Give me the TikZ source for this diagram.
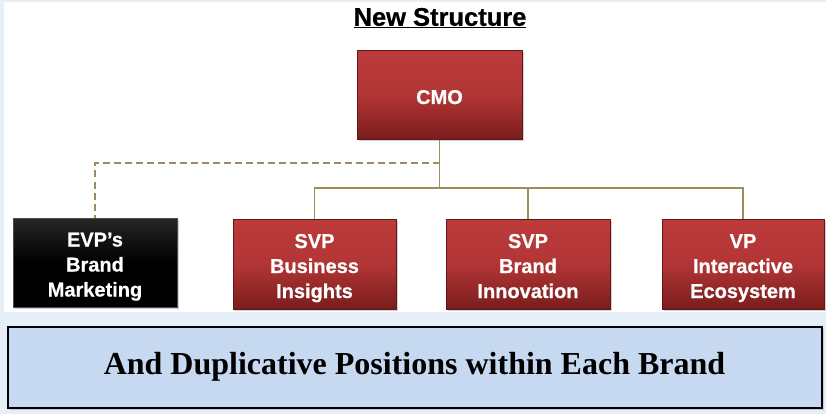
\documentclass[tikz,border=0pt]{standalone}
\usepackage{fontspec}
\setmainfont{Liberation Sans}[BoldFeatures={FakeBold=0.6}]
\newfontfamily\timesfont{Liberation Serif}
\usetikzlibrary{shadows}
\definecolor{bgblue}{HTML}{E6EEF8}
\definecolor{conn}{HTML}{9A8E5C}
\definecolor{redtop}{HTML}{BC3A3A}
\definecolor{redbot}{HTML}{7A1C1C}
\definecolor{boxblue}{HTML}{C6D9F0}
\newcommand{\lowtext}[1]{\raisebox{-4pt}[\height][\depth]{\begin{tabular}{@{}c@{}}#1\end{tabular}}}
\begin{document}
\begin{tikzpicture}[x=1pt,y=-1pt,
  redbox/.style={draw=redbot!80!black, line width=0.6pt, top color=redtop, bottom color=redbot, middle color=redtop!85!redbot,
    text=white, font=\bfseries\fontsize{20}{25}\selectfont, align=center, inner sep=0pt,
    drop shadow={opacity=0.35, shadow xshift=1.5pt, shadow yshift=-1.5pt}},
  blackbox/.style={redbox, draw=gray!60!black, top color=black!85, bottom color=black, middle color=black},
  solidconn/.style={draw=conn, line width=1.3pt},
  dashconn/.style={draw=conn, line width=1.6pt, dashed, dash pattern=on 7pt off 4pt}]
\useasboundingbox (0,0) rectangle (826,414);
\fill[bgblue] (0,0) rectangle (826,414);
\fill[white] (4,2) rectangle (826,312);
% title
\node[font=\bfseries\fontsize{25.5}{28}\selectfont, inner sep=0pt] (title) at (440,18) {\underline{New Structure}};
% boxes
\node[redbox, minimum width=165pt, minimum height=89pt] (cmo) at (439.5,95) {\lowtext{CMO}};
\node[blackbox, minimum width=164pt, minimum height=89pt] (evp) at (95,262.5) {\lowtext{EVP's\\Brand\\Marketing}};
\node[redbox, minimum width=163pt, minimum height=90pt] (sbi) at (314.5,264) {\lowtext{SVP\\Business\\Insights}};
\node[redbox, minimum width=164pt, minimum height=90pt] (sbr) at (528,264) {\lowtext{SVP\\Brand\\Innovation}};
\node[redbox, minimum width=162pt, minimum height=90pt] (vp) at (743,264) {\lowtext{VP\\Interactive\\Ecosystem}};
% connectors
\coordinate (j) at (cmo.south |- 0,188);
\draw[solidconn] (cmo.south) -- (j);
\draw[solidconn] (sbi.north) |- (j);
\draw[solidconn] (j) -| (vp.north);
\draw[solidconn] (sbr.north) -- (sbr.north |- j);
\draw[dashconn] (cmo.south |- 0,163) -| (evp.north);
% bottom box
\node[draw=black, line width=2pt, fill=boxblue, minimum width=814pt, minimum height=81pt,
  drop shadow={opacity=0.3, shadow xshift=2pt, shadow yshift=-2pt},
  font=\timesfont\bfseries\fontsize{32}{36}\selectfont] (note) at (414.5,367) {And Duplicative Positions within Each Brand};
\end{tikzpicture}
\end{document}
